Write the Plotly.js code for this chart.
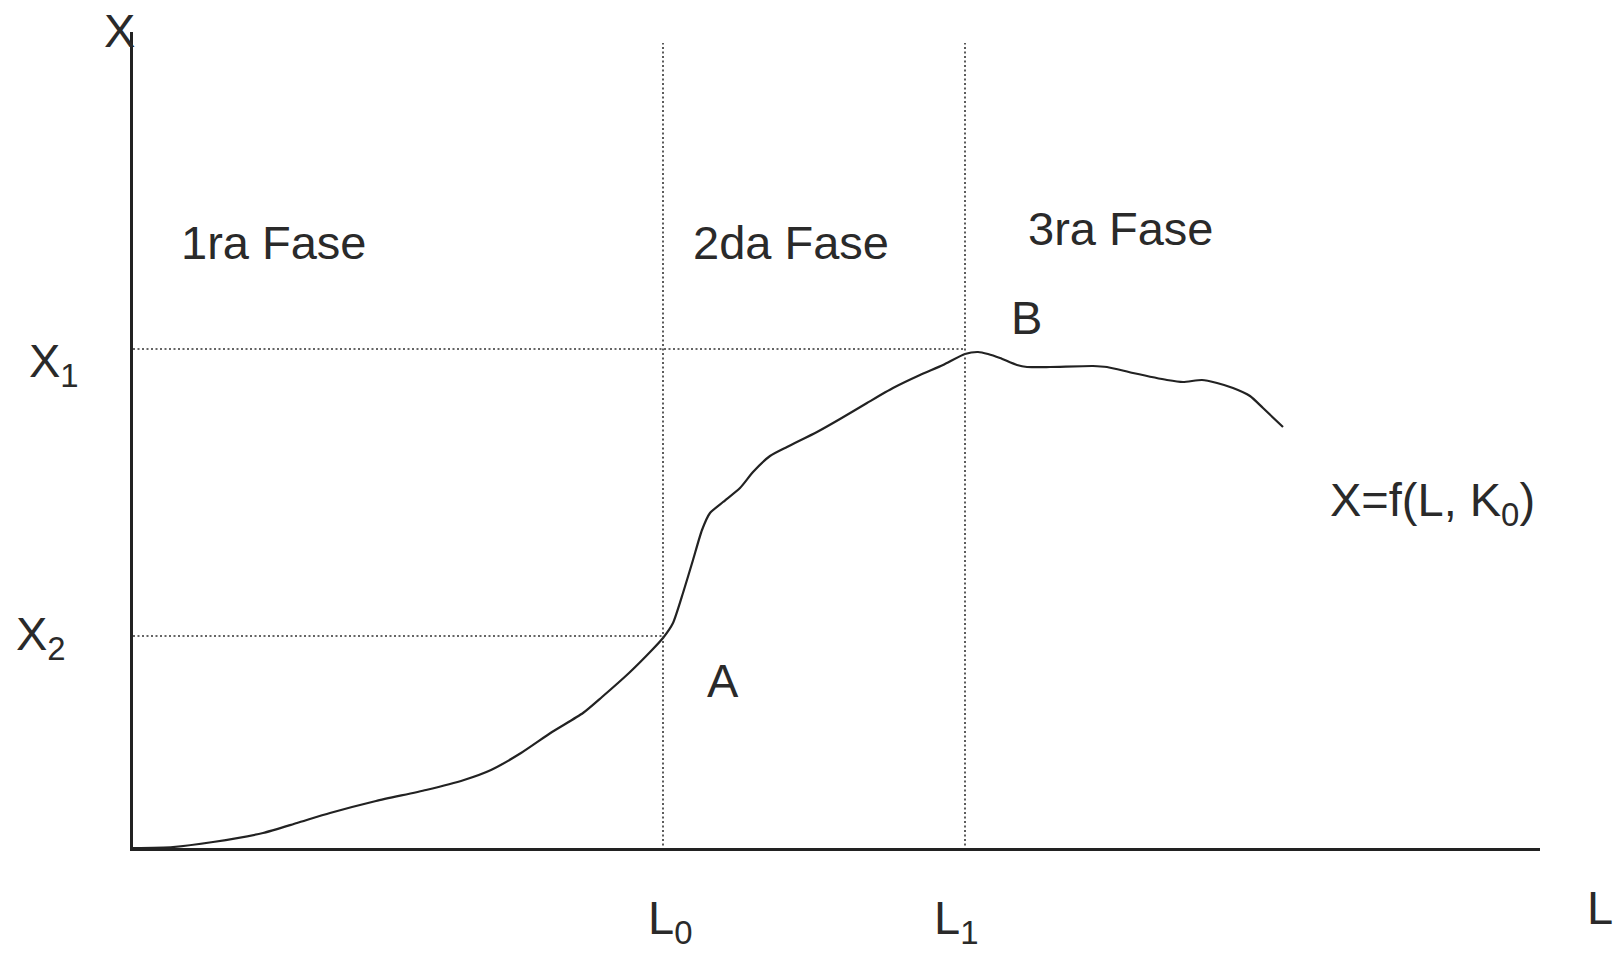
<!DOCTYPE html>
<html>
<head>
<meta charset="utf-8">
<script src="https://cdn.plot.ly/plotly-3.0.1.min.js"></script>
<style>
  html, body { margin: 0; padding: 0; background: #ffffff; }
  #chart { width: 1619px; height: 953px; }
</style>
</head>
<body>
<div id="chart"></div>
<script>
// ---- data (arbitrary units) ----
const curveL = [0, 40, 80, 130, 164, 197, 243, 293, 331, 358, 388, 419, 450, 469, 496, 519, 530, 540, 550, 560, 569, 577, 590, 607, 620, 637, 654, 684, 707, 734, 760, 787, 810, 832, 845, 855, 867, 884, 894, 917, 960, 974, 1000, 1034, 1050, 1069, 1084, 1100, 1117, 1130, 1150];
const curveX = [0, 1, 6, 15, 25, 35, 47, 58, 68, 78, 95, 116, 135, 151, 175, 198, 210, 225, 255, 288, 318, 335, 346, 360, 376, 392, 401, 416, 429, 445, 460, 473, 483, 494, 496, 494, 490, 483, 481, 481, 482, 481, 475, 468, 466, 468, 465, 460, 452, 440, 421];
const L0 = 530;
const L1 = 832;
const X1 = 499;
const X2 = 212;
const xMax = 1407;
const yMax = 816;
const guideTop = 805;
const guideBottom = -11;
const phaseLabels = ["1ra Fase", "2da Fase", "3ra Fase"];
const axisLabels = { y: "X", x: "L" };
const levelLabels = { L0: "L<sub>0</sub>", L1: "L<sub>1</sub>", X1: "X<sub>1</sub>", X2: "X<sub>2</sub>" };
const pointLabels = { A: "A", B: "B" };
const funcLabel = "X=f(L, K<sub>0</sub>)";

// ---- layout helpers ----
const W = 1619, H = 953;
const M = { l: 133, r: 79, t: 32, b: 105 };
const pw = W - M.l - M.r, ph = H - M.t - M.b;
const px2paperX = p => (p - M.l) / pw;
const px2paperY = p => (H - M.b - p) / ph;

const FONT = "Liberation Sans, Arial, sans-serif";
const TXT = "#2a2a2a";
const fs = 47;

function ann(text, x, y, opts) {
  return Object.assign({
    text: text, x: x, y: y, xref: "paper", yref: "paper",
    showarrow: false, xanchor: "center", yanchor: "middle",
    font: { family: FONT, size: fs, color: TXT }
  }, opts || {});
}

const annotations = [
  ann(axisLabels.y, px2paperX(119), px2paperY(30)),
  ann(axisLabels.x, px2paperX(1600), px2paperY(907)),
  ann(levelLabels.X1, px2paperX(54), X1, { yref: "y", yshift: -15 }),
  ann(levelLabels.X2, px2paperX(41), X2, { yref: "y", yshift: -1 }),
  ann(levelLabels.L0, L0, px2paperY(921), { xref: "x", xshift: 7 }),
  ann(levelLabels.L1, L1, px2paperY(921), { xref: "x", xshift: -9 }),
  ann(phaseLabels[0], px2paperX(273), px2paperY(243)),
  ann(phaseLabels[1], px2paperX(791), px2paperY(243)),
  ann(phaseLabels[2], px2paperX(1120), px2paperY(228)),
  ann(pointLabels.B, px2paperX(1026), px2paperY(317)),
  ann(pointLabels.A, px2paperX(723), px2paperY(680)),
  ann(funcLabel, px2paperX(1432), px2paperY(503))
];

const dotLine = { color: "#333333", width: 1.6, dash: "2px,2.5px" };
const shapes = [
  { type: "line", xref: "x", yref: "y", x0: L0, x1: L0, y0: guideBottom, y1: guideTop, line: dotLine },
  { type: "line", xref: "x", yref: "y", x0: L1, x1: L1, y0: guideBottom, y1: guideTop, line: dotLine },
  { type: "line", xref: "x", yref: "y", x0: 0, x1: L1, y0: X1, y1: X1, line: dotLine },
  { type: "line", xref: "x", yref: "y", x0: 0, x1: L0, y0: X2, y1: X2, line: dotLine }
];

const trace = {
  x: curveL, y: curveX, type: "scatter", mode: "lines",
  line: { color: "#222222", width: 2.2, shape: "spline", smoothing: 0.6 },
  cliponaxis: false, hoverinfo: "skip"
};

const axisCommon = {
  showgrid: false, zeroline: false, showticklabels: false, ticks: "",
  showline: true, linecolor: "#222222", linewidth: 3, fixedrange: true
};

const layout = {
  width: W, height: H,
  margin: M,
  paper_bgcolor: "#ffffff", plot_bgcolor: "#ffffff",
  showlegend: false,
  xaxis: Object.assign({ range: [0, xMax] }, axisCommon),
  yaxis: Object.assign({ range: [0, yMax] }, axisCommon),
  shapes: shapes,
  annotations: annotations
};

Plotly.newPlot("chart", [trace], layout, { displayModeBar: false, staticPlot: true });
</script>
</body>
</html>
